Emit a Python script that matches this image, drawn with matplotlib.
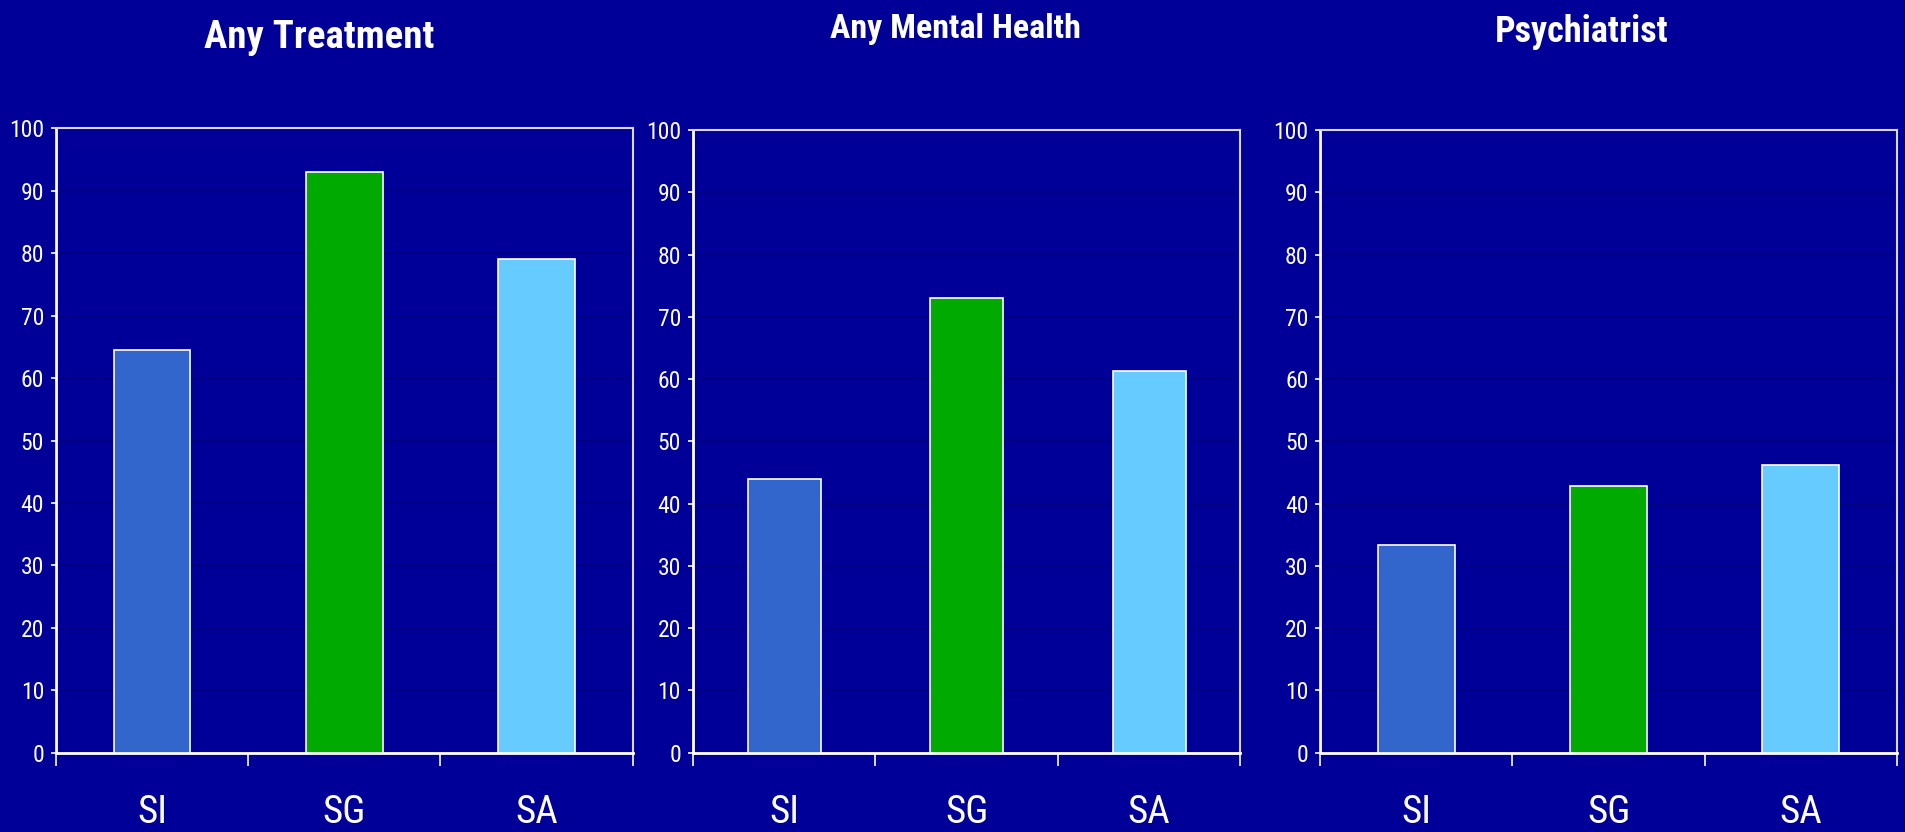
import matplotlib.pyplot as plt
from matplotlib import font_manager as fm
from matplotlib.ticker import FixedLocator

# percent of each group who received treatment
groups = ['SI', 'SG', 'SA']
any_treatment = [64.5, 93.0, 79.1]
any_mental_health = [43.9, 73.0, 61.3]
psychiatrist = [33.4, 42.9, 46.2]
panel_titles = ['Any Treatment', 'Any Mental Health', 'Psychiatrist']
bar_colors = ['#3366CC', '#00AA00', '#66CCFF']

BG = '#000099'
W, H = 1906, 832

# narrow face if there is one, else plain Liberation Sans at smaller sizes
installed = {f.name for f in fm.fontManager.ttflist}
if 'Roboto Condensed' in installed:
    plt.rcParams['font.family'] = ['Roboto Condensed', 'DejaVu Sans']
    tick_size, cat_size, title_sizes = 17, 28, [28, 24.5, 26]
else:
    plt.rcParams['font.family'] = ['Liberation Sans', 'DejaVu Sans']
    tick_size, cat_size, title_sizes = 15, 24, [26, 22, 24]

fig = plt.figure(figsize=(W / 100, H / 100), dpi=100, facecolor=BG)

# axes boxes in pixels: left, right, top, bottom (from the top of the figure)
boxes = [(55.9, 632.7, 128.3, 752.7),
         (692.8, 1240.5, 130.0, 752.7),
         (1320.2, 1897.0, 130.0, 752.7)]
# title centre x and baseline y, in pixels
title_pos = [(319, 48), (955, 38), (1582, 41.5)]

for box, vals, title, tpos, ts in zip(boxes, [any_treatment, any_mental_health, psychiatrist],
                                      panel_titles, title_pos, title_sizes):
    l, r, t, b = box
    ax = fig.add_axes([l / W, (H - b) / H, (r - l) / W, (b - t) / H])
    ax.set_facecolor(BG)
    ax.bar(range(len(groups)), vals, width=0.4, color=bar_colors,
           edgecolor='white', linewidth=1.2, zorder=3)
    ax.set_xlim(-0.5, len(groups) - 0.5)
    ax.set_ylim(0, 100)
    ax.set_yticks(range(0, 101, 10))
    ax.yaxis.grid(True, color='#000080', linewidth=1.2, zorder=0)

    ax.set_xticks(range(len(groups)))
    ax.set_xticklabels(groups)
    ax.xaxis.set_minor_locator(FixedLocator([-0.5, 0.5, 1.5, 2.5]))
    ax.tick_params(axis='x', which='major', length=0, pad=30, labelsize=cat_size,
                   labelcolor='white')
    ax.tick_params(axis='x', which='minor', length=9, width=1.2, color='white',
                   direction='out')
    ax.tick_params(axis='y', length=3.5, width=1.2, color='white', pad=5,
                   labelsize=tick_size, labelcolor='white')

    for side in ['left', 'bottom']:
        ax.spines[side].set_color('white')
        ax.spines[side].set_linewidth(2)
    for side in ['top', 'right']:
        ax.spines[side].set_color('#D8D8E8')
        ax.spines[side].set_linewidth(1.5)

    tx, ty = tpos
    fig.text(tx / W, 1 - ty / H, title, ha='center', va='baseline', color='white',
             fontsize=ts, fontweight='bold')

fig.savefig('out.png', dpi=100, facecolor=BG)
